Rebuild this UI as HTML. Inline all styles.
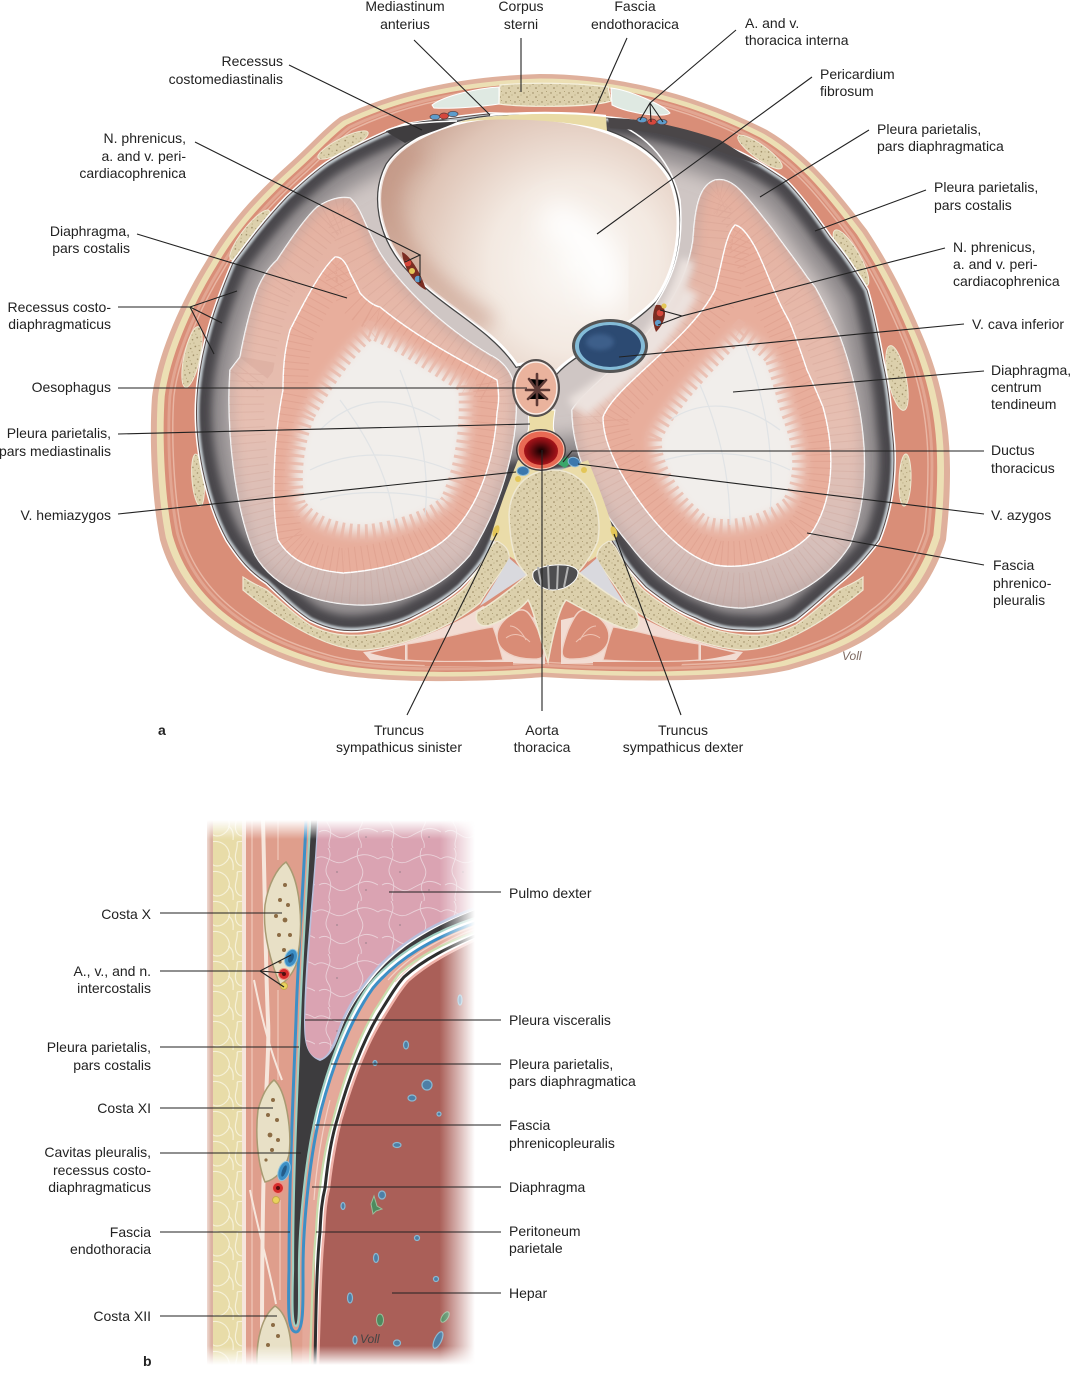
<!DOCTYPE html>
<html><head><meta charset="utf-8"><style>
html,body{margin:0;padding:0;background:#fff}
svg{display:block}
text{font-family:"Liberation Sans",sans-serif;font-size:14px;fill:#222}
.e{text-anchor:end}.m{text-anchor:middle}
.l line,.l polyline{stroke:#222;stroke-width:1.1;fill:none}
</style></head><body>
<svg width="1071" height="1374" viewBox="0 0 1071 1374" xmlns="http://www.w3.org/2000/svg">
<defs>
<filter id="b1" x="-20%" y="-20%" width="140%" height="140%"><feGaussianBlur stdDeviation="1"/></filter>
<filter id="b2" x="-20%" y="-20%" width="140%" height="140%"><feGaussianBlur stdDeviation="2"/></filter>
<filter id="b4" x="-20%" y="-20%" width="140%" height="140%"><feGaussianBlur stdDeviation="4"/></filter>
<filter id="b6" x="-20%" y="-20%" width="140%" height="140%"><feGaussianBlur stdDeviation="6"/></filter>
<filter id="b9" x="-30%" y="-30%" width="160%" height="160%"><feGaussianBlur stdDeviation="9"/></filter>
<filter id="b14" x="-40%" y="-40%" width="180%" height="180%"><feGaussianBlur stdDeviation="14"/></filter>
<radialGradient id="peri" gradientUnits="userSpaceOnUse" cx="575" cy="265" r="215"><stop offset="0" stop-color="#fbf9f6"/><stop offset=".4" stop-color="#f3e9e1"/><stop offset=".75" stop-color="#dfc5b7"/><stop offset="1" stop-color="#c39a89"/></radialGradient>
<radialGradient id="aor" cx=".5" cy=".5" r=".55"><stop offset="0" stop-color="#100"/><stop offset=".6" stop-color="#7d0d12"/><stop offset="1" stop-color="#b5161c"/></radialGradient>
<linearGradient id="lobeA" gradientUnits="userSpaceOnUse" x1="0" x2="0" y1="190" y2="610"><stop offset="0" stop-color="#e5b09f"/><stop offset=".55" stop-color="#e6bfb2"/><stop offset=".85" stop-color="#d6bfba"/><stop offset="1" stop-color="#c8b2ae"/></linearGradient>
<linearGradient id="fx" x1="0" x2="1" y1="0" y2="0"><stop offset="0" stop-color="#000"/><stop offset=".03" stop-color="#fff"/><stop offset=".87" stop-color="#fff"/><stop offset="1" stop-color="#000"/></linearGradient>
<linearGradient id="fy" x1="0" x2="0" y1="0" y2="1"><stop offset="0" stop-color="#000"/><stop offset=".035" stop-color="#fff"/><stop offset=".965" stop-color="#fff"/><stop offset="1" stop-color="#000"/></linearGradient>
<mask id="mx"><rect x="203" y="820" width="272" height="545" fill="url(#fx)"/></mask>
<mask id="my"><rect x="203" y="820" width="272" height="545" fill="url(#fy)"/></mask>
<pattern id="bone" width="9" height="9" patternUnits="userSpaceOnUse"><rect width="9" height="9" fill="#dcd0ac"/><circle cx="2" cy="3" r=".7" fill="#94835c"/><circle cx="6.5" cy="1.5" r=".5" fill="#a39468"/><circle cx="5" cy="7" r=".8" fill="#94835c"/><circle cx="8" cy="5" r=".45" fill="#a39468"/></pattern>
<pattern id="lung" width="63" height="53" patternUnits="userSpaceOnUse"><rect width="63" height="53" fill="#daa3b2"/><path d="M0 11c11-8 18 9 31 2s21-9 32-2M4 37c11-7 16 11 29 4s18-11 30-4M13 0c7 11-7 18 0 29s-2 18 2 24M44 0c-7 13 9 18 2 31s2 13 0 22" stroke="#ead0d8" stroke-width=".9" fill="none"/><circle cx="22" cy="24" r="1" fill="#b08c98"/><circle cx="51" cy="42" r="1" fill="#b08c98"/></pattern>
<pattern id="fat" width="26" height="30" patternUnits="userSpaceOnUse"><rect width="26" height="30" fill="#e8dca8"/><path d="M3 2c8-2 16 2 18 10s-6 14-12 14S0 20 2 12 3 2 3 2M20 16c4 2 6 6 5 14" stroke="#f6f1d8" stroke-width="1.2" fill="none"/></pattern>
<path id="body" d="M540 74C620 74 700 96 767 130C810 155 840 195 867 230C890 265 905 295 920 330C940 375 950 420 950 470C950 500 948 520 946 540C935 575 915 605 889 623C860 648 825 660 789 670C730 683 620 682 543 677C490 682 370 685 317 670C280 660 245 645 217 623C190 602 170 575 160 540C152 500 149 440 152 397C158 350 185 295 205 263C230 220 260 190 290 163C310 145 325 128 340 117C400 88 470 76 540 74Z"/>
<path id="cav" d="M488 114C450 118 425 122 405 125C385 132 350 148 327 163C310 175 298 187 287 197C265 220 250 240 233 263C215 305 200 350 197 397C194 440 205 500 227 540C240 560 250 572 267 583C285 600 295 610 310 620C330 630 345 632 363 630C380 628 395 625 410 618C430 608 445 600 460 587C475 572 485 560 490 547C500 525 508 500 516 476L570 470C585 500 602 525 616 547C625 565 635 575 646 587C665 602 680 612 696 618C715 628 730 630 743 630C765 632 780 628 796 620C815 605 825 595 839 583C855 570 868 555 879 540C895 500 896 460 892 430C890 405 888 385 883 363C878 335 873 310 867 290C855 270 845 255 830 237C815 215 800 195 785 180C770 170 755 160 740 153C700 135 650 122 607 118Z"/>
<clipPath id="ccav"><use href="#cav"/></clipPath>
<path id="la" d="M230 370L240 357C245 330 250 310 257 290C262 278 268 268 277 260C290 240 305 218 317 207C328 200 340 196 350 198C358 205 362 216 367 227C372 238 376 246 380 253C400 285 440 325 490 355C505 362 514 375 516 395C518 440 505 500 470 555C440 590 400 605 363 605C320 605 275 590 255 555C235 510 226 430 230 370Z"/>
<path id="lb" d="M283 390C283 360 286 345 290 330C300 310 320 270 335 257C342 256 347 265 350 273C355 283 358 288 360 293C368 302 375 306 380 307C420 340 470 365 497 380C500 400 498 405 497 413C494 460 480 505 450 535C430 555 390 570 343 573C310 570 290 560 278 540C270 500 275 430 283 390Z"/>
<path id="ra" d="M715 180C725 178 733 183 740 190C750 200 762 216 773 230C785 247 797 262 807 277L815 287C825 305 832 320 840 337C848 358 853 378 857 397C868 450 868 500 850 545C825 585 780 605 743 608C700 608 660 585 630 545C600 510 572 460 572 410C590 380 680 330 693 240C695 205 700 185 715 180Z"/>
<path id="rb" d="M735 225C742 226 750 238 755 247C763 262 770 282 777 297C781 307 786 315 790 323C797 340 802 355 807 370C813 383 818 395 823 407C835 450 835 500 810 535C785 560 745 570 715 565C680 555 650 520 625 480C610 455 603 435 603 417C615 385 690 340 715 290C722 265 725 235 735 225Z"/>
<path id="tl" d="M307 413C320 390 345 350 370 330C400 340 440 370 467 385C470 420 465 470 448 503C430 520 395 530 370 533C340 535 310 525 297 505C290 480 295 440 307 413Z"/>
<path id="tr" d="M653 437C670 400 720 350 740 330C755 340 765 348 773 357C780 375 785 395 790 413C805 450 805 480 790 505C765 525 730 533 705 525C680 510 650 470 653 437Z"/>
<clipPath id="cla"><use href="#la"/></clipPath><clipPath id="clb"><use href="#lb"/></clipPath>
<clipPath id="cra"><use href="#ra"/></clipPath><clipPath id="crb"><use href="#rb"/></clipPath>
<path id="peripath" d="M507 117C450 118 405 140 388 165C372 195 380 235 405 265C440 305 490 325 517 365C530 362 545 362 556 372C575 350 620 335 655 300C680 265 684 215 670 180C650 145 600 118 507 117Z"/>
<clipPath id="cpe"><use href="#peripath"/></clipPath>
<clipPath id="cz"><rect x="203" y="820" width="272" height="545"/></clipPath>
<g id="halfspine">
<path d="M490 540L497 541L509 556L518 562L512 510L500 515Z" fill="#eadca9"/>
<path d="M243 577C255 585 262 587 267 590C285 605 295 615 310 625C330 635 345 636 363 635C380 633 395 630 410 623C430 613 445 604 460 592C470 584 478 570 490 548C494 543 496 541 497 541C505 545 510 550 509 560C500 575 490 585 480 603C450 628 400 648 363 650C330 650 285 625 243 590Z" fill="url(#bone)" stroke="#efe8d2" stroke-width="1.2"/>
<path d="M509 558C500 575 490 590 480 606L528 574C520 568 514 562 509 558Z" fill="#d9d9de"/>
<path d="M518 460C510 480 498 510 490 540L497 541L508 520C508 495 525 475 545 470Z" fill="#eadca9"/>
<path d="M363 652C400 648 450 628 483 606L545 620V664L370 660Z" fill="#f2dcd3"/>
<path d="M407 644C440 640 470 630 493 627C498 640 500 650 503 660C470 662 430 662 407 660Z" fill="#d98c76" stroke="#f0d2c6" stroke-width="1.2"/>
<path d="M370 653C385 650 395 647 405 645V660C390 658 380 656 370 653Z" fill="#d98c76"/>
<path d="M423 662H513V666H425Z" fill="#d98c76"/>
<path d="M515 612C525 606 530 612 538 630C545 650 547 658 537 659C515 660 497 652 497 636C497 626 505 618 515 612Z" fill="#d98c76" stroke="#f0d2c6" stroke-width="1.5"/>
<path d="M506 638c8-6 16-4 24 4M510 626c6 0 12 6 16 14" stroke="#eec2b2" stroke-width="1" fill="none"/>
</g>
</defs>

<!-- UPPER FIGURE -->
<use href="#body" fill="#dfb09c"/>
<g transform="translate(550 378) scale(.985) translate(-550 -378)"><use href="#body" fill="#ecdfb4"/></g>
<g transform="translate(550 378) scale(.968 .97) translate(-550 -378)"><use href="#body" fill="#d98e78"/></g>
<g fill="none" stroke="#efc9b8" stroke-width="1.5" opacity=".7" transform="translate(550 378) scale(.945 .95) translate(-550 -378)"><use href="#body"/></g>
<g fill="none" stroke="#e8b5a4" stroke-width="3" opacity=".6" transform="translate(550 378) scale(.955 .96) translate(-550 -378)"><use href="#body"/></g>
<!-- ribs -->
<g fill="url(#bone)" stroke="#efe8d2" stroke-width="1">
<ellipse cx="343" cy="145" rx="28" ry="7" transform="rotate(-27 343 145)"/>
<ellipse cx="250" cy="235" rx="31" ry="8" transform="rotate(-52 250 235)"/>
<ellipse cx="192" cy="357" rx="31" ry="8" transform="rotate(-78 192 357)"/>
<ellipse cx="198" cy="480" rx="26" ry="6" transform="rotate(85 198 480)"/>
<ellipse cx="760" cy="152" rx="27" ry="7" transform="rotate(36 760 152)"/>
<ellipse cx="851" cy="258" rx="32" ry="9" transform="rotate(60 851 258)"/>
<ellipse cx="897" cy="378" rx="33" ry="9" transform="rotate(78 897 378)"/>
<ellipse cx="905" cy="480" rx="26" ry="6" transform="rotate(92 905 480)"/>
</g>

<!-- cavity -->
<use href="#cav" fill="none" stroke="#fff" stroke-width="4"/>
<g clip-path="url(#ccav)">
<rect x="190" y="100" width="720" height="540" fill="#cfc6c4"/>
<use href="#cav" fill="none" stroke="#8f8a8c" stroke-width="68" filter="url(#b9)"/>
<use href="#cav" fill="none" stroke="#48474b" stroke-width="30" filter="url(#b4)"/>
<use href="#cav" fill="none" stroke="#c2cbd0" stroke-width="6" filter="url(#b1)"/>
</g>
<use href="#cav" fill="none" stroke="#5a4a48" stroke-width="1"/>
<!-- lobes -->
<use href="#la" fill="url(#lobeA)" stroke="#fff" stroke-width="1.4"/>
<g clip-path="url(#cla)">
<use href="#la" fill="none" stroke="#bb8475" stroke-width="70" stroke-dasharray="1 7" opacity=".16"/>
<use href="#la" fill="none" stroke="#b5a3a0" stroke-width="14" filter="url(#b4)" opacity=".35"/>
</g>
<use href="#lb" fill="#e8ae9c" stroke="#fff" stroke-width="1.4"/>
<g clip-path="url(#clb)">
<use href="#lb" fill="none" stroke="#c67f6c" stroke-width="50" stroke-dasharray="1 6" opacity=".2"/>
<use href="#tl" fill="#f1eeeb" filter="url(#b6)"/>
<use href="#tl" fill="none" stroke="#e8b4a4" stroke-width="18" stroke-dasharray="3 5" opacity=".7"/>
<path d="M320 430C350 400 390 390 440 420M310 470C350 450 400 450 450 470M320 500C350 490 400 490 440 500M340 400C370 440 390 480 395 525M400 370C420 420 430 470 425 515" stroke="#dce0e4" stroke-width="1.2" fill="none" opacity=".8"/>
</g>
<use href="#ra" fill="url(#lobeA)" stroke="#fff" stroke-width="1.4"/>
<g clip-path="url(#cra)">
<use href="#ra" fill="none" stroke="#bb8475" stroke-width="70" stroke-dasharray="1 7" opacity=".16"/>
<use href="#ra" fill="none" stroke="#b5a3a0" stroke-width="14" filter="url(#b4)" opacity=".35"/>
<path d="M580 410C610 385 660 350 690 290" stroke="#ece2de" stroke-width="18" fill="none" filter="url(#b4)"/>
</g>
<use href="#rb" fill="#e8ae9c" stroke="#fff" stroke-width="1.4"/>
<g clip-path="url(#crb)">
<use href="#rb" fill="none" stroke="#c67f6c" stroke-width="50" stroke-dasharray="1 6" opacity=".2"/>
<use href="#tr" fill="#f1eeeb" filter="url(#b6)"/>
<use href="#tr" fill="none" stroke="#e8b4a4" stroke-width="18" stroke-dasharray="3 5" opacity=".7"/>
<path d="M670 420C700 400 740 400 780 430M665 460C700 450 750 450 790 470M700 385C720 430 730 480 730 525M745 345C765 400 775 450 770 515" stroke="#dce0e4" stroke-width="1.2" fill="none" opacity=".8"/>
</g>
<!-- pale band by vena cava -->
<path d="M572 405C610 380 665 340 688 260" stroke="#ece3df" stroke-width="14" fill="none" filter="url(#b4)"/>

<!-- bone and back muscles -->
<use href="#halfspine"/>
<g transform="translate(1106 0) scale(-1 1)"><use href="#halfspine"/></g>
<path d="M553 470C525 470 510 490 509 515C510 540 513 550 516 560C520 568 525 572 527 575C510 590 490 605 477 612C474 622 480 628 490 625C505 620 520 610 528 600C534 610 540 640 548 662C552 640 558 610 566 600C585 610 610 625 630 630C642 628 640 618 635 610C615 600 595 585 578 572C585 565 595 550 598 540C603 510 590 470 553 470Z" fill="url(#bone)" stroke="#efe8d2" stroke-width="1.5"/>
<path d="M533 573C535 565 575 560 578 572C578 582 565 590 553 590C543 590 531 582 533 573Z" fill="#4e4e50" stroke="#fff" stroke-width="1"/>
<path d="M538 567l4 22M548 565l1 25M558 565l-1 25M568 567l-4 20" stroke="#b2b2b2" stroke-width="2"/>

<!-- pericardium -->
<use href="#peripath" fill="none" stroke="#444" stroke-width="5.5"/>
<use href="#peripath" fill="url(#peri)" stroke="#fff" stroke-width="3"/>
<g clip-path="url(#cpe)">
<path d="M490 325C440 292 405 262 390 215C385 190 395 165 420 150" stroke="#c2927f" stroke-width="20" fill="none" filter="url(#b9)" opacity=".55"/>
<path d="M545 215C590 235 615 265 600 305" stroke="#fff" stroke-width="34" fill="none" filter="url(#b14)"/>
</g>
<path d="M610 121C650 135 672 165 680 200C684 245 675 275 655 305" fill="none" stroke="#fff" stroke-width="1.5"/>

<!-- top mediastinum -->
<path d="M500 85C530 82 580 83 608 87L611 101C590 108 520 107 499 104Z" fill="url(#bone)" stroke="#f5f0dd" stroke-width="1.2"/>
<path d="M432 105C445 95 480 88 499 87L499 104C480 107 450 109 434 108Z" fill="#dfe9e2" stroke="#fff" stroke-width="1"/>
<path d="M611 88C630 90 665 106 670 113C665 118 630 114 612 105Z" fill="#dfe9e2" stroke="#fff" stroke-width="1"/>
<path d="M458 123C475 113 590 111 606 117L607 131C575 120 490 116 458 123Z" fill="#e9dba6"/>
<path d="M407 124C425 120 445 118 457 122C440 130 420 135 405 143L385 131Z" fill="#3f3d3f"/>
<path d="M490 115C530 112 570 112 606 116" stroke="#fff" stroke-width="2.2" fill="none"/>
<path d="M608 118C640 118 680 126 720 140L760 165L715 150C680 135 640 130 610 128Z" fill="#4a4648"/>
<path d="M385 131C400 124 420 122 457 121" stroke="#fff" stroke-width="1.5" fill="none"/>
<g stroke="#5a3a3a" stroke-width=".7"><ellipse cx="435" cy="117" rx="5" ry="2.7" fill="#5e9ccb"/><ellipse cx="444" cy="116" rx="4.5" ry="3" fill="#d6473c"/><ellipse cx="453" cy="114" rx="5" ry="2.7" fill="#5e9ccb"/>
<ellipse cx="642" cy="120" rx="5" ry="2.7" fill="#5e9ccb"/><ellipse cx="652" cy="122" rx="4.5" ry="3" fill="#d6473c"/><ellipse cx="662" cy="122" rx="5" ry="2.7" fill="#5e9ccb"/></g>

<!-- phrenic bundles -->
<path d="M402 252C410 255 422 275 426 290C415 285 403 268 402 252Z" fill="#7b2d22"/>
<circle cx="408" cy="263" r="3.3" fill="#d6473c"/><circle cx="412" cy="271" r="3" fill="#e3c658"/><circle cx="418" cy="279" r="3.3" fill="#5e9ccb"/>
<path d="M656 305C668 303 668 320 656 332C652 322 652 312 656 305Z" fill="#7b2d22"/>
<circle cx="660" cy="313" r="3.3" fill="#d6473c"/><circle cx="658" cy="323" r="3.1" fill="#5e9ccb"/><circle cx="664" cy="306" r="2.6" fill="#e3c658"/>

<!-- mediastinum centre -->
<path d="M528 410C529 425 531 430 522 444L560 444C551 430 553 425 555 410Z" fill="#ebdca6" stroke="#fff" stroke-width="1"/>
<ellipse cx="536" cy="388" rx="24" ry="29" fill="#55504f"/>
<ellipse cx="536" cy="388" rx="21" ry="26" fill="#eab39d" stroke="#fbeee8" stroke-width="1.5"/>
<g stroke="#5d3a36" stroke-width="2.6" stroke-linecap="round">
<path d="M537 374V405M529 379L537 390L546 380M526 390H549M528 399L537 390L547 399"/></g>
<ellipse cx="541" cy="450" rx="25" ry="21" fill="#454043"/>
<ellipse cx="541" cy="450" rx="23" ry="19" fill="#e86a54" stroke="#f5c8b5" stroke-width="1"/>
<ellipse cx="541" cy="451" rx="17" ry="14" fill="url(#aor)"/>
<path d="M558 464L566 456L572 462L565 468Z" fill="#3aa66a"/>
<ellipse cx="574" cy="462" rx="6" ry="4.5" fill="#3b78ad" stroke="#8ab8d6" transform="rotate(20 574 462)"/>
<ellipse cx="523" cy="471" rx="6" ry="4.5" fill="#3b78ad" stroke="#8ab8d6"/>
<circle cx="518" cy="479" r="3" fill="#e3c658"/><circle cx="584" cy="470" r="3" fill="#e3c658"/>
<ellipse cx="496" cy="531" rx="3" ry="6" fill="#e3c658" transform="rotate(20 496 531)"/>
<ellipse cx="614" cy="532" rx="3" ry="6" fill="#e3c658" transform="rotate(-20 614 532)"/>
<!-- vena cava -->
<ellipse cx="610" cy="346" rx="38" ry="27" fill="#555"/>
<ellipse cx="610" cy="346" rx="35" ry="24" fill="#84bcd8"/>
<ellipse cx="610" cy="346" rx="31" ry="21" fill="#2c4a72"/>
<ellipse cx="600" cy="342" rx="14" ry="8" fill="#3c5f8a" filter="url(#b2)"/>
<text x="842" y="660" style="font-size:12px;fill:#7d6a62;font-style:italic">Voll</text>

<!-- LOWER FIGURE -->
<g mask="url(#mx)"><g mask="url(#my)"><g clip-path="url(#cz)">
<rect x="203" y="820" width="272" height="545" fill="#fff"/>
<rect x="207" y="820" width="6" height="545" fill="#dcb2a2"/>
<rect x="213" y="820" width="32" height="545" fill="url(#fat)"/>
<rect x="245" y="820" width="70" height="545" fill="#df9e8c"/>
<path d="M244 820V1365M263 820C265 900 266 980 268 1020C270 1060 262 1100 262 1340" stroke="#f6e6dc" stroke-width="4" fill="none"/>
<path d="M252 820V1365M278 820V860M278 990V1080M280 1200V1300" stroke="#e9b7a7" stroke-width="2" fill="none"/>
<path d="M254 980C262 1020 270 1050 282 1080M250 1190C258 1230 270 1270 276 1304" stroke="#f6e6dc" stroke-width="2" fill="none"/>
<!-- lung -->
<path d="M317 820H475V908C430 925 395 945 370 977C360 990 352 1000 343 1020C337 1035 332 1058 320 1060C304 1058 304 1040 304 1020C306 950 315 880 317 820Z" fill="url(#lung)" stroke="#b9c0dc" stroke-width="2.5"/>
<!-- cavity -->
<path d="M311 820H317C315 880 305 950 304 1020C304 1040 305 1055 320 1061C335 1056 338 1035 345 1020C354 1001 362 991 372 979C397 947 432 927 475 910V918C429 933 394 955 369 985C344 1020 327 1070 317 1110C311 1135 307 1160 304 1188C301 1215 299 1240 299 1270C299 1300 300 1326 296 1326C292 1326 292 1305 293 1270C293 1180 297 1100 300 1020C302 950 308 880 311 820Z" fill="#3d3c3e"/>
<!-- diaphragm muscle -->
<path d="M302 1365C303 1300 303 1240 308 1188C311 1160 315 1135 321 1110C331 1072 348 1023 373 988C398 958 433 938 475 923V932C445 943 420 955 400 973C392 982 385 995 375 1010C355 1045 342 1085 333 1120C327 1140 323 1160 320 1188C318 1200 317 1210 316 1232C313 1260 312 1300 310 1365Z" fill="#e4a99a"/>
<path d="M475 926C440 938 410 955 388 980M475 929C445 940 418 957 395 982M330 1100C322 1130 316 1170 314 1200" stroke="#f2d1c6" stroke-width="1.2" fill="none"/>
<!-- liver -->
<path d="M318 1365C320 1300 321 1260 324 1232C325 1210 326 1200 329 1188C332 1160 336 1140 341 1120C350 1090 363 1050 383 1018C393 1002 400 990 408 981C428 963 452 951 475 940V1365Z" fill="#aa5f58"/>
<!-- layers -->
<path d="M318 1365C320 1300 321 1260 324 1232C325 1210 326 1200 329 1188C332 1160 336 1140 341 1120C350 1090 363 1050 383 1018C393 1002 400 990 408 981C428 963 452 951 475 940" fill="none" stroke="#f0b3aa" stroke-width="2.5"/>
<path d="M315 1365C316 1300 317 1260 320 1232C321 1210 322 1200 325 1188C328 1160 331 1140 337 1120C346 1088 359 1048 379 1014C389 998 396 986 404 977C424 959 449 947 475 936" fill="none" stroke="#2e2e2e" stroke-width="3"/>
<path d="M310 1365C312 1300 313 1260 316 1232C317 1210 318 1200 320 1188C323 1160 327 1140 333 1120C342 1085 355 1045 375 1010C385 995 392 982 400 973C420 955 445 943 475 932" fill="none" stroke="#c7dcac" stroke-width="2.2"/>
<path d="M306 820C304 880 298 950 296 1020C293 1100 289 1180 289 1270C288 1310 288 1332 296 1332C304 1332 303 1300 303 1270C303 1240 305 1215 308 1188C311 1160 315 1135 321 1110C331 1072 348 1023 373 988C398 958 433 938 475 923" fill="none" stroke="#3d8fc6" stroke-width="3"/>
<path d="M310 820C308 880 302 950 300 1020C297 1100 293 1180 293 1270C292 1305 292 1326 296 1326C300 1326 299 1300 299 1270C299 1240 301 1215 304 1188C307 1160 311 1135 317 1110C327 1070 344 1020 369 985C394 955 429 933 475 918" fill="none" stroke="#9fd0c2" stroke-width="2.2"/>
<!-- ribs -->
<path d="M286 862C300 880 305 925 296 965C292 975 285 982 280 985C272 965 262 935 265 905C268 885 277 868 286 862Z" fill="#e8e0c6" stroke="#a89a72" stroke-width="1.5"/>
<g fill="#8c6c44"><circle cx="285" cy="885" r="2"/><circle cx="280" cy="900" r="2"/><circle cx="288" cy="905" r="2"/><circle cx="276" cy="916" r="2"/><circle cx="285" cy="920" r="2.4"/><circle cx="290" cy="935" r="2"/><circle cx="279" cy="935" r="2"/><circle cx="284" cy="950" r="2"/><circle cx="280" cy="962" r="1.6"/></g>
<path d="M274 1080C286 1090 292 1130 289 1155C285 1170 275 1180 265 1182C258 1165 255 1135 258 1110C262 1095 268 1085 274 1080Z" fill="#e8e0c6" stroke="#a89a72" stroke-width="1.5"/>
<g fill="#8c6c44"><circle cx="273" cy="1100" r="2"/><circle cx="268" cy="1115" r="2"/><circle cx="277" cy="1120" r="2"/><circle cx="270" cy="1135" r="2.4"/><circle cx="278" cy="1140" r="2"/><circle cx="272" cy="1150" r="2"/><circle cx="266" cy="1160" r="1.6"/></g>
<path d="M275 1306C285 1312 292 1330 292 1365H257C256 1340 262 1316 275 1306Z" fill="#e8e0c6" stroke="#a89a72" stroke-width="1.5"/>
<g fill="#8c6c44"><circle cx="273" cy="1325" r="2"/><circle cx="278" cy="1336" r="2"/><circle cx="268" cy="1345" r="2"/></g>
<!-- intercostals -->
<ellipse cx="291" cy="958" rx="6" ry="9" fill="#3d8fc6" stroke="#8ec4de" transform="rotate(20 291 958)"/>
<ellipse cx="291" cy="958" rx="2.5" ry="5" fill="#245c8a" transform="rotate(20 291 958)"/>
<circle cx="284" cy="974" r="5.5" fill="#d62d2c" stroke="#f09186"/><circle cx="284" cy="974" r="2" fill="#5a0d0d"/>
<circle cx="284" cy="986" r="3.5" fill="#e9d35c" stroke="#c7a850"/>
<ellipse cx="284" cy="1171" rx="5.5" ry="10" fill="#3d8fc6" stroke="#8ec4de" transform="rotate(20 284 1171)"/>
<ellipse cx="284" cy="1171" rx="2" ry="6" fill="#245c8a" transform="rotate(20 284 1171)"/>
<circle cx="278" cy="1188" r="5.5" fill="#d62d2c" stroke="#f09186"/><circle cx="278" cy="1188" r="2" fill="#5a0d0d"/>
<circle cx="276" cy="1200" r="3.5" fill="#e9d35c" stroke="#c7a850"/>
<!-- liver vessels -->
<g fill="#4e7fa6" stroke="#8ab9d2" stroke-width="1.2">
<ellipse cx="406" cy="1045" rx="2.5" ry="4"/><ellipse cx="427" cy="1085" rx="5" ry="5"/><ellipse cx="412" cy="1098" rx="4" ry="3"/>
<ellipse cx="375" cy="1063" rx="2" ry="2.5"/><ellipse cx="439" cy="1114" rx="2" ry="2"/>
<ellipse cx="397" cy="1145" rx="4" ry="2.5"/><ellipse cx="343" cy="1206" rx="2" ry="3.5"/><ellipse cx="382" cy="1195" rx="3.5" ry="4"/>
<ellipse cx="417" cy="1238" rx="2.5" ry="2.5"/><ellipse cx="376" cy="1258" rx="2.5" ry="4.5"/><ellipse cx="436" cy="1279" rx="2.5" ry="2.5"/>
<ellipse cx="350" cy="1298" rx="2.5" ry="5"/><ellipse cx="355" cy="1340" rx="2" ry="4"/><ellipse cx="397" cy="1343" rx="3.5" ry="3"/>
<ellipse cx="438" cy="1340" rx="3.5" ry="9" transform="rotate(25 438 1340)"/>
<ellipse cx="460" cy="1000" rx="2" ry="5"/>
</g>
<g fill="#4e8a5e" stroke="#99bf9c"><ellipse cx="380" cy="1320" rx="3.5" ry="6"/><ellipse cx="445" cy="1317" rx="3" ry="6" transform="rotate(35 445 1317)"/><path d="M374 1196l3 10 5 3-6 2-3 3-2-10z"/></g>
<text x="360" y="1343" style="font-size:12px;fill:#444;font-style:italic">Voll</text>
</g></g></g>

<!-- LEADERS -->
<g class="l">
<line x1="414" y1="40" x2="490" y2="115"/><line x1="521" y1="38" x2="521" y2="92"/><line x1="627" y1="38" x2="594" y2="112"/>
<polyline points="736,30 650,103 640,120"/><polyline points="650,103 651,122"/><polyline points="650,103 663,122"/>
<line x1="289" y1="65" x2="422" y2="130"/><line x1="812" y1="77" x2="597" y2="234"/><line x1="869" y1="130" x2="760" y2="197"/><line x1="926" y1="190" x2="815" y2="231"/>
<polyline points="945,248 682,316 660,310"/><polyline points="682,316 658,325"/>
<line x1="964" y1="324" x2="619" y2="357"/><line x1="984" y1="371" x2="733" y2="392"/>
<polyline points="984,451 572,451 563,462"/><line x1="984" y1="514" x2="578" y2="464"/><line x1="984" y1="565" x2="807" y2="533"/>
<line x1="681" y1="715" x2="614" y2="534"/><line x1="542" y1="711" x2="542" y2="450"/><line x1="407" y1="715" x2="497" y2="533"/>
<line x1="118" y1="514" x2="516" y2="472"/><line x1="118" y1="434" x2="530" y2="424"/><line x1="118" y1="388" x2="527" y2="388"/>
<polyline points="118,307 190,307 237,291"/><polyline points="190,307 222,323"/><polyline points="190,307 214,354"/>
<line x1="137" y1="234" x2="347" y2="298"/>
<polyline points="195,142 420,255 405,262"/><polyline points="420,255 420,283"/>
<line x1="160" y1="913" x2="282" y2="913"/>
<polyline points="160,971 260,971 291,955"/><polyline points="260,971 284,973"/><polyline points="260,971 284,987"/>
<line x1="160" y1="1047" x2="299" y2="1047"/><line x1="160" y1="1108" x2="273" y2="1108"/><line x1="160" y1="1153" x2="301" y2="1153"/><line x1="160" y1="1232" x2="290" y2="1232"/><line x1="160" y1="1316" x2="277" y2="1316"/>
<line x1="501" y1="892" x2="389" y2="892"/><line x1="501" y1="1020" x2="305" y2="1020"/><line x1="501" y1="1064" x2="331" y2="1064"/><line x1="501" y1="1125" x2="315" y2="1125"/><line x1="501" y1="1187" x2="312" y2="1187"/><line x1="501" y1="1232" x2="316" y2="1232"/><line x1="501" y1="1293" x2="392" y2="1293"/>
</g>

<!-- LABELS -->
<g class="m">
<text x="405" y="11">Mediastinum</text><text x="405" y="29">anterius</text>
<text x="521" y="11">Corpus</text><text x="521" y="29">sterni</text>
<text x="635" y="11">Fascia</text><text x="635" y="29">endothoracica</text>
<text x="399" y="735">Truncus</text><text x="399" y="752">sympathicus sinister</text>
<text x="542" y="735">Aorta</text><text x="542" y="752">thoracica</text>
<text x="683" y="735">Truncus</text><text x="683" y="752">sympathicus dexter</text>
</g>
<g>
<text x="745" y="28">A. and v.</text><text x="745" y="45">thoracica interna</text>
<text x="820" y="79">Pericardium</text><text x="820" y="96">fibrosum</text>
<text x="877" y="134">Pleura parietalis,</text><text x="877" y="151">pars diaphragmatica</text>
<text x="934" y="192">Pleura parietalis,</text><text x="934" y="210">pars costalis</text>
<text x="953" y="252">N. phrenicus,</text><text x="953" y="269">a. and v. peri-</text><text x="953" y="286">cardiacophrenica</text>
<text x="972" y="329">V. cava inferior</text>
<text x="991" y="375">Diaphragma,</text><text x="991" y="392">centrum</text><text x="991" y="409">tendineum</text>
<text x="991" y="455">Ductus</text><text x="991" y="473">thoracicus</text>
<text x="991" y="520">V. azygos</text>
<text x="993" y="570">Fascia</text><text x="993" y="588">phrenico-</text><text x="993" y="605">pleuralis</text>
<text x="509" y="898">Pulmo dexter</text>
<text x="509" y="1025">Pleura visceralis</text>
<text x="509" y="1069">Pleura parietalis,</text><text x="509" y="1086">pars diaphragmatica</text>
<text x="509" y="1130">Fascia</text><text x="509" y="1148">phrenicopleuralis</text>
<text x="509" y="1192">Diaphragma</text>
<text x="509" y="1236">Peritoneum</text><text x="509" y="1253">parietale</text>
<text x="509" y="1298">Hepar</text>
</g>
<g class="e">
<text x="283" y="66">Recessus</text><text x="283" y="84">costomediastinalis</text>
<text x="186" y="143">N. phrenicus,</text><text x="186" y="161">a. and v. peri-</text><text x="186" y="178">cardiacophrenica</text>
<text x="130" y="236">Diaphragma,</text><text x="130" y="253">pars costalis</text>
<text x="111" y="312">Recessus costo-</text><text x="111" y="329">diaphragmaticus</text>
<text x="111" y="392">Oesophagus</text>
<text x="111" y="438">Pleura parietalis,</text><text x="111" y="456">pars mediastinalis</text>
<text x="111" y="520">V. hemiazygos</text>
<text x="151" y="919">Costa X</text>
<text x="151" y="976">A., v., and n.</text><text x="151" y="993">intercostalis</text>
<text x="151" y="1052">Pleura parietalis,</text><text x="151" y="1070">pars costalis</text>
<text x="151" y="1113">Costa XI</text>
<text x="151" y="1157">Cavitas pleuralis,</text><text x="151" y="1175">recessus costo-</text><text x="151" y="1192">diaphragmaticus</text>
<text x="151" y="1237">Fascia</text><text x="151" y="1254">endothoracia</text>
<text x="151" y="1321">Costa XII</text>
</g>
<text x="158" y="735" style="font-weight:bold">a</text>
<text x="143" y="1366" style="font-weight:bold">b</text>
</svg>
</body></html>
